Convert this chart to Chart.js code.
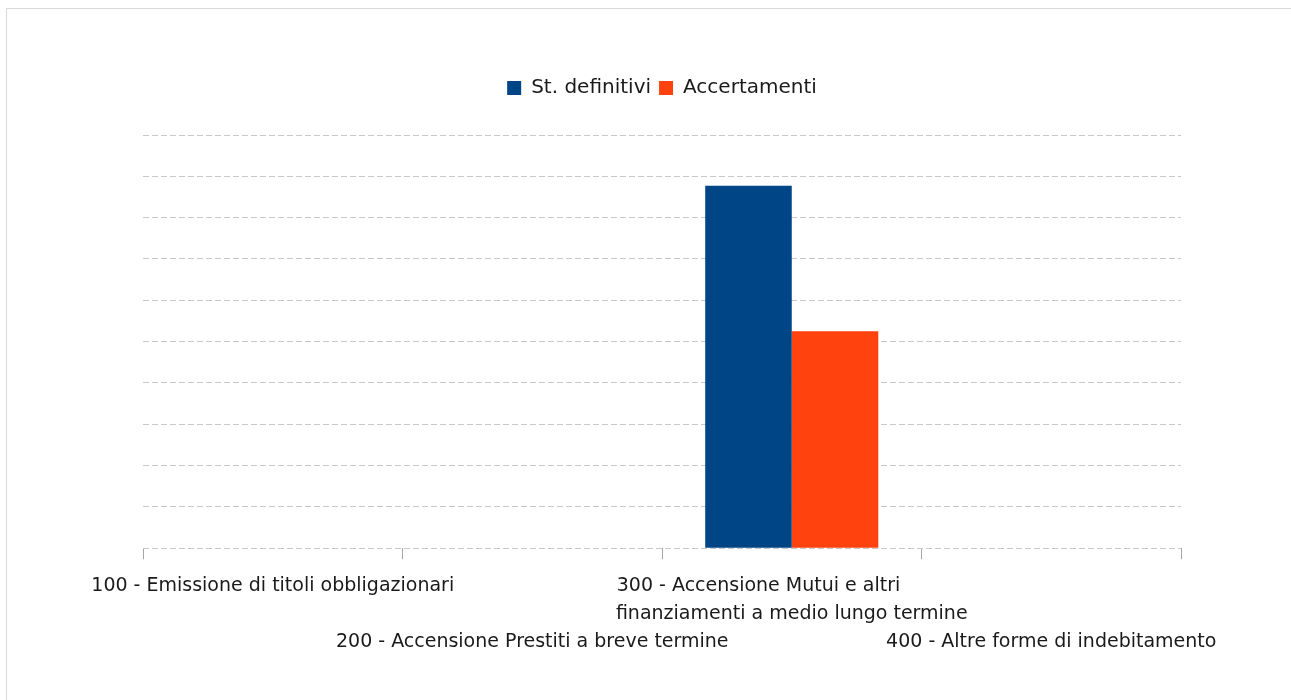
<!DOCTYPE html>
<html lang="it">
<head>
  <meta charset="UTF-8">
  <title>Accensione di prestiti</title>
  <script src="https://cdn.jsdelivr.net/npm/chart.js"></script>
  <style>
    html, body { margin: 0; padding: 0; background: #fff; overflow: hidden; }
    #frame { position: absolute; left: 6px; top: 8px; width: 1400px; height: 800px;
             border-left: 1px solid #d9d9d9; border-top: 1px solid #d9d9d9; }
    #wrap { position: absolute; left: 0; top: 0; width: 1291px; height: 700px; }
  </style>
</head>
<body>
  <div id="frame"></div>
  <div id="wrap"><canvas id="chart"></canvas></div>

  <script>
    // categorie (titoli)
    const categories = [
      '100 - Emissione di titoli obbligazionari',
      '200 - Accensione Prestiti a breve termine',
      '300 - Accensione Mutui e altri finanziamenti a medio lungo termine',
      '400 - Altre forme di indebitamento'
    ];
    // etichette come appaiono sull'asse (righe sfalsate)
    const tickLabels = [
      ['100 - Emissione di titoli obbligazionari'],
      ['', '', '200 - Accensione Prestiti a breve termine'],
      ['300 - Accensione Mutui e altri', 'finanziamenti a medio lungo termine'],
      ['', '', '400 - Altre forme di indebitamento']
    ];
    const stDefinitivi = [0, 0, 877000, 0];
    const accertamenti = [0, 0, 525000, 0];
    const yMax = 1000000;
    const yStep = 100000;

    const FONT = 'DejaVu Sans';
    const TICK_SIZE = 19;

    // allinea a sinistra le righe del 300 riempiendo con spazi
    function padLines(lines, ctx) {
      if (lines.length < 2 || lines[0] === '') return lines;
      ctx.font = TICK_SIZE + 'px "' + FONT + '"';
      const w = Math.max(...lines.map(l => ctx.measureText(l).width));
      const sp = ctx.measureText(' ').width;
      return lines.map(l => {
        let s = l;
        while (ctx.measureText(s).width < w - sp / 2) s += ' ';
        return s;
      });
    }

    const legendGap = {
      id: 'legendGap',
      beforeInit(chart) {
        const fit = chart.legend.fit;
        chart.legend.fit = function () {
          fit.bind(chart.legend)();
          this.height += 27;
        };
      }
    };

    const canvas = document.getElementById('chart');
    const mctx = canvas.getContext('2d');
    const shownLabels = tickLabels.map(l => padLines(l, mctx));

    new Chart(canvas, {
      type: 'bar',
      data: {
        labels: categories,
        datasets: [
          {
            label: 'St. definitivi',
            data: stDefinitivi,
            backgroundColor: '#004586',
            categoryPercentage: 0.667,
            barPercentage: 1
          },
          {
            label: 'Accertamenti',
            data: accertamenti,
            backgroundColor: '#ff420e',
            categoryPercentage: 0.667,
            barPercentage: 1
          }
        ]
      },
      plugins: [legendGap],
      options: {
        responsive: true,
        maintainAspectRatio: false,
        animation: false,
        layout: { padding: { left: 143, right: 110, top: 70, bottom: 31 } },
        plugins: {
          tooltip: { enabled: false },
          legend: {
            position: 'top',
            labels: {
              color: '#1a1a1a',
              font: { family: FONT, size: 20 },
              boxWidth: 14,
              boxHeight: 14,
              padding: 8
            }
          }
        },
        scales: {
          x: {
            grid: {
              offset: true,
              drawOnChartArea: false,
              drawTicks: true,
              tickLength: 11,
              color: '#a6a6a6'
            },
            border: { display: false },
            ticks: {
              autoSkip: false,
              maxRotation: 0,
              minRotation: 0,
              color: '#1a1a1a',
              padding: 13,
              font: { family: FONT, size: TICK_SIZE, lineHeight: 1.47 },
              callback: (v, i) => shownLabels[i]
            }
          },
          y: {
            min: 0,
            max: yMax,
            ticks: { display: false, stepSize: yStep },
            grid: { color: '#c8c8c8', drawTicks: false },
            border: { display: false, dash: [6, 3] }
          }
        }
      }
    });
  </script>
</body>
</html>
